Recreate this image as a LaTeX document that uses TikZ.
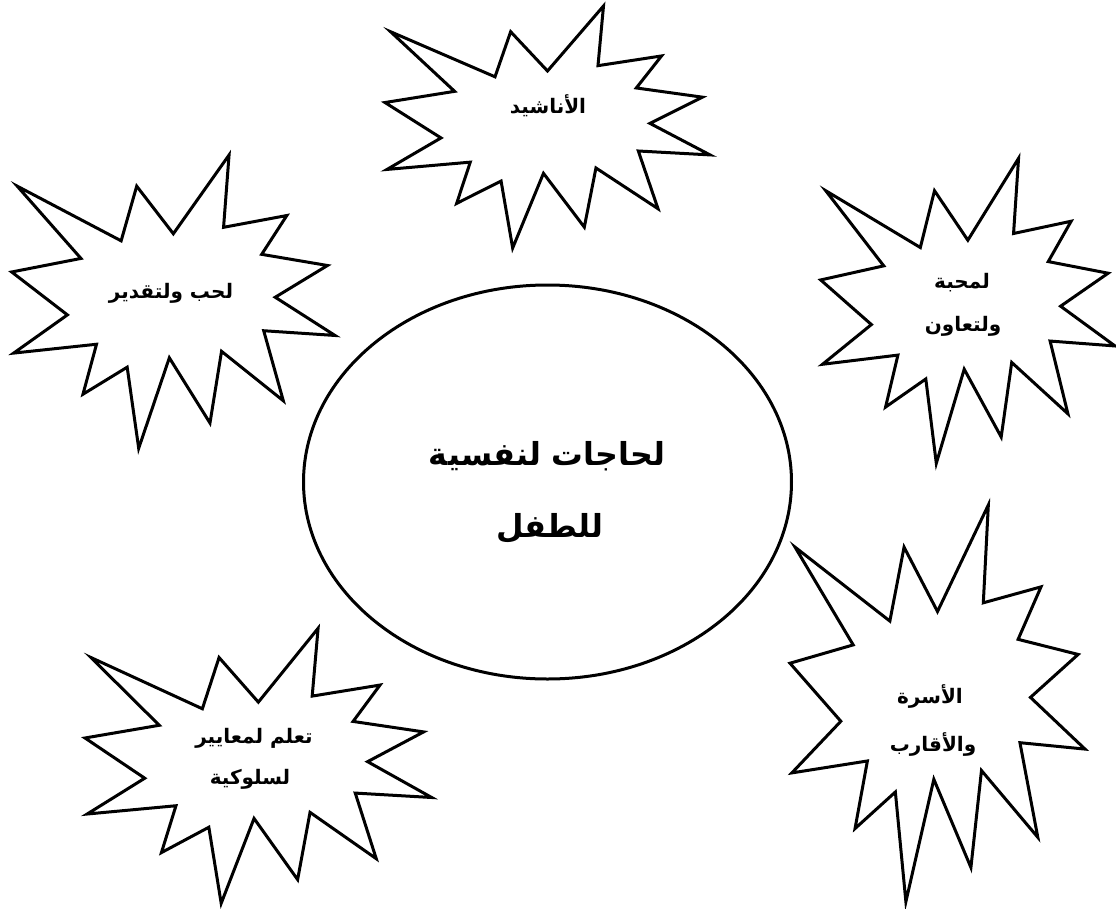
\documentclass[tikz,border=0pt]{standalone}
\usepackage{fontspec}
\usetikzlibrary{shapes.geometric}
\TeXXeTstate=1
\newfontfamily\arabicfont[Script=Arabic]{DejaVu Sans}
\tikzset{
  outline/.style={draw=black, line width=1.8pt, line join=miter, fill=white},
  burst/.pic={
    \draw[outline] (10.8,5.8) -- (14.522,0) -- (14.155,5.325) -- (18.38,4.457) -- (16.702,7.315)
      -- (21.097,8.137) -- (17.607,10.475) -- (21.6,13.29) -- (16.837,12.942) -- (18.145,18.095)
      -- (14.02,14.457) -- (13.247,19.737) -- (10.532,14.935) -- (8.485,21.6) -- (7.715,15.627)
      -- (4.762,17.617) -- (5.667,13.937) -- (0.135,14.587) -- (3.722,11.775) -- (0,8.615)
      -- (4.627,7.617) -- (0.37,2.295) -- (7.312,6.32) -- (8.352,2.295) -- cycle;
  },
  label/.style={inner sep=0pt, font=\arabicfont\bfseries\fontsize{12}{14}\selectfont},
  biglabel/.style={inner sep=0pt, font=\arabicfont\bfseries\fontsize{19}{22}\selectfont},
}
\begin{document}
\begin{tikzpicture}[x=0.6pt, y=-0.6pt]
\useasboundingbox (0,0) rectangle (1116,909);
% central ellipse
\node[ellipse, draw=black, line width=1.8pt, minimum width=292.8pt, minimum height=236.4pt, inner sep=0pt] (core) at (547.5,482) {};
\node[biglabel] (coreA) at (547,456) {\beginR لحاجات لنفسية\endR};
\node[biglabel] (coreB) at (550,528) {\beginR للطفل\endR};
% bursts
\pic[xscale=325/21.6, yscale=242/21.6] at (385,6) {burst};
\pic[xscale=323.3/21.6, yscale=293.3/21.6] at (11.7,155) {burst};
\pic[xscale=294.3/21.6, yscale=305/21.6] at (820.7,158.3) {burst};
\pic[xscale=295/21.6, yscale=396.7/21.6] at (790,505) {burst};
\pic[xscale=346.7/21.6, yscale=275/21.6] at (85,628.3) {burst};
% labels
\node[label] (songs) at (548,106) {\beginR الأناشيد\endR};
\node[label] (love) at (171,293) {\beginR لحب ولتقدير\endR};
\node[label] (affA) at (962,283) {\beginR لمحبة\endR};
\node[label] (affB) at (963,326) {\beginR ولتعاون\endR};
\node[label] (famA) at (930,696) {\beginR الأسرة\endR};
\node[label] (famB) at (933,744) {\beginR والأقارب\endR};
\node[label] (normA) at (254,738) {\beginR تعلم لمعايير\endR};
\node[label] (normB) at (250,779) {\beginR لسلوكية\endR};
\end{tikzpicture}
\end{document}
